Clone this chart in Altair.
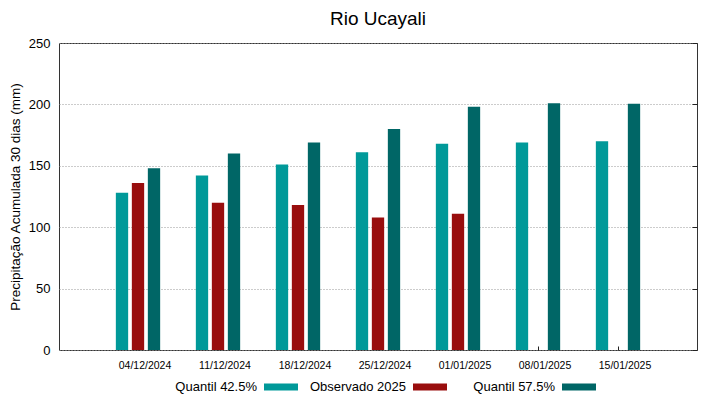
import altair as alt
import pandas as pd

dates = ["04/12/2024", "11/12/2024", "18/12/2024", "25/12/2024",
         "01/01/2025", "08/01/2025", "15/01/2025"]
q425 = [128, 142, 151, 161, 168, 169, 170]
obs2025 = [136, 120, 118, 108, 111, None, None]
q575 = [148, 160, 169, 180, 198, 201, 200.5]

series_names = ["Quantil 42.5%", "Observado 2025", "Quantil 57.5%"]
series_colors = ["#009999", "#990e0e", "#006666"]

rows = []
for i, d in enumerate(dates):
    for name, vals in zip(series_names, [q425, obs2025, q575]):
        if vals[i] is not None:
            rows.append({"date": d, "serie": name, "value": vals[i]})
df = pd.DataFrame(rows)

font = "Liberation Sans"
xscale = alt.Scale(paddingInner=0.4, paddingOuter=0.6875)
yscale = alt.Scale(domain=[0, 250])
yvals = [0, 50, 100, 150, 200, 250]

bars = alt.Chart(df).mark_bar(stroke=None).encode(
    x=alt.X("date:N", sort=dates, title=None, scale=xscale,
            axis=alt.Axis(labelAngle=0, labelFontSize=10.5, labelColor="#000",
                          labelPadding=10, labelOffset=7, ticks=False,
                          domain=False, grid=False, labelFont=font)),
    xOffset=alt.XOffset("serie:N", sort=series_names,
                        scale=alt.Scale(paddingInner=0.23, paddingOuter=0.115)),
    y=alt.Y("value:Q", title="Precipitação Acumulada 30 dias (mm)", scale=yscale,
            axis=alt.Axis(values=yvals, labelFontSize=13,
                          labelColor="#000", titleFontSize=13.5, titleFontWeight="normal",
                          titleColor="#000", ticks=False, domain=False, labelPadding=9,
                          titlePadding=6, labelFont=font, titleFont=font,
                          grid=True, gridDash=[1, 2], gridColor="#999", gridWidth=1)),
    color=alt.Color("serie:N", sort=series_names,
                    scale=alt.Scale(domain=series_names, range=series_colors),
                    legend=alt.Legend(title=None, orient="none", direction="horizontal",
                                      legendX=205, legendY=327,
                                      symbolType="M-1,-0.2H1V0.2H-1Z", symbolSize=1156,
                                      symbolStrokeWidth=0,
                                      labelAlign="right", labelOffset={"expr": "-41"},
                                      labelFontSize=13, labelColor="#000", labelFont=font,
                                      gridAlign="all", columnPadding=11,
                                      labelLimit=200)),
)

# mirror axes carrying the inward tick marks (right and bottom)
mirror = alt.Chart(df).mark_point(opacity=0).encode(
    x=alt.X("date:N", sort=dates, title=None, scale=xscale,
            axis=alt.Axis(orient="top", offset={"expr": "-307"}, labels=False,
                          domain=False, grid=False, ticks=True, tickSize=4,
                          tickColor="#222", tickWidth=1)),
    y=alt.Y("value:Q", title=None, scale=yscale,
            axis=alt.Axis(orient="right", values=yvals, offset={"expr": "-5"},
                          labels=False, domain=False, grid=False, ticks=True,
                          tickSize=5, tickColor="#222", tickWidth=1)),
)

chart = alt.layer(bars, mirror).resolve_axis(x="independent", y="independent").properties(
    width=638, height=307,
    padding={"left": 0, "top": 2, "right": 0, "bottom": 0},
    title=alt.TitleParams("Rio Ucayali", fontSize=19, fontWeight="normal",
                          font=font, color="#000", anchor="middle", offset=8),
).configure_view(stroke="#333", strokeWidth=1)

chart.save("out.html", embed_options={"renderer": "svg", "actions": False})
